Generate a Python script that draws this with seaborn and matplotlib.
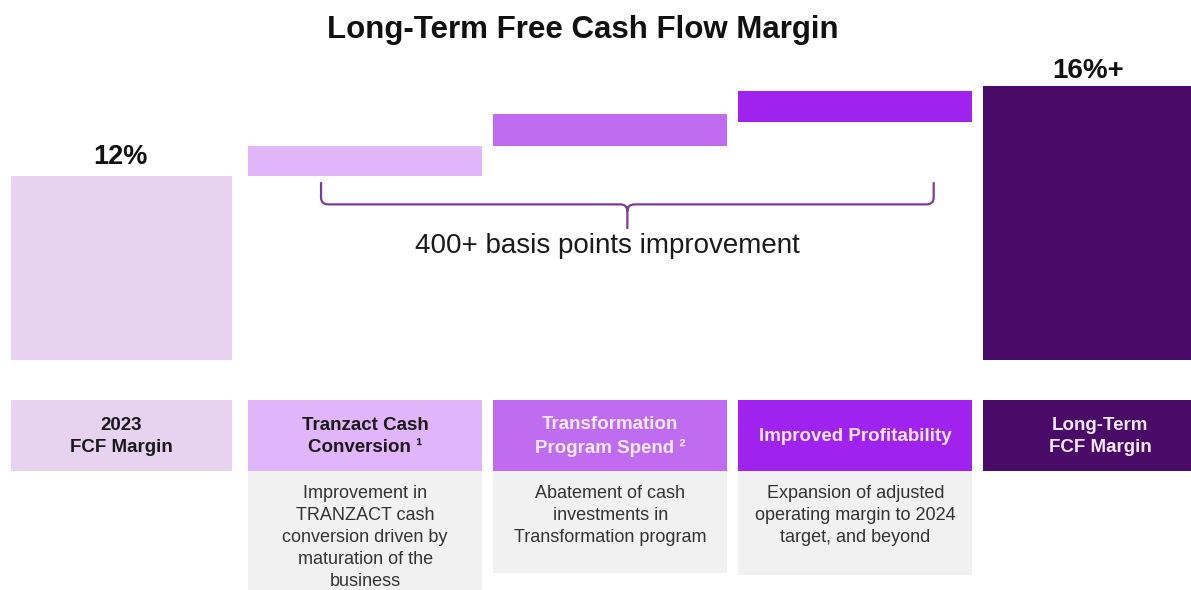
import numpy as np
import matplotlib
matplotlib.use('Agg')
import matplotlib.pyplot as plt
from matplotlib.path import Path
from matplotlib.patches import PathPatch
import seaborn as sns

# Waterfall values (FCF margin, %)
categories = ['2023', 'Tranzact', 'Transformation', 'Profitability', 'Long-Term']
bar_bottoms = [0.0, 12.0, 13.95, 15.5, 0.0]
bar_tops = [12.0, 13.95, 16.05, 17.55, 17.9]
value_labels = {0: '12%', 4: '16%+'}

header_labels = ['2023\nFCF Margin', 'Tranzact Cash\nConversion \u00b9',
                 'Transformation\nProgram Spend \u00b2', 'Improved Profitability',
                 'Long-Term\nFCF Margin']
descriptions = ['', 'Improvement in\nTRANZACT cash\nconversion driven by\nmaturation of the\nbusiness',
                'Abatement of cash\ninvestments in\nTransformation program',
                'Expansion of adjusted\noperating margin to 2024\ntarget, and beyond', '']

bar_colors = ['#E7D3F0', '#E0B5F9', '#BF6CF0', '#A022EE', '#4A0A68']
header_text_colors = ['#1A1A1A', '#1A1A1A', '#F6EAFC', '#F3E6FA', '#F1E8F5']

sns.set_theme(style='white')
plt.rcParams['font.family'] = ['Liberation Sans', 'DejaVu Sans']

fig = plt.figure(figsize=(11.91, 5.90), dpi=100)
ax = fig.add_axes([0, 0, 1, 1])

# coloured full-height bars, then white bars hide the floating part below
sns.barplot(x=categories, y=bar_tops, hue=categories, palette=bar_colors, order=categories,
            hue_order=categories, width=0.955, saturation=1, legend=False, linewidth=0, ax=ax)
sns.barplot(x=categories, y=bar_bottoms, color='white', order=categories, width=0.955,
            saturation=1, linewidth=0, ax=ax)

# first column is a bit narrower than the others
first_left, first_w = -0.445, 0.902
for p in ax.patches:
    if abs(p.get_x() + p.get_width() / 2) < 0.1:
        p.set_x(first_left)
        p.set_width(first_w)

ax.set_xlim(-0.49, 4.37)
ax.set_ylim(-15.0, 23.48)
ax.axis('off')

ax.text(0.0, bar_tops[0] + 0.78, value_labels[0], ha='center', va='baseline',
        fontsize=19.5, fontweight='bold', color='#111111')
ax.text(3.95, bar_tops[4] + 0.5, value_labels[4], ha='center', va='baseline',
        fontsize=20, fontweight='bold', color='#111111')

# header boxes and description boxes under the bars
head_top, head_bot = -2.61, -7.24
desc_bottoms = [None, -15.3, -13.9, -14.0, None]
xs = np.arange(len(categories)).astype(float)
widths = [0.955] * len(categories)
xs[0], widths[0] = first_left + first_w / 2, first_w
ax.bar(xs, head_bot - head_top, bottom=head_top, width=widths, color=bar_colors, linewidth=0)
for i in range(len(categories)):
    ax.text(xs[i], (head_top + head_bot) / 2 - 0.05, header_labels[i], ha='center', va='center',
            fontsize=13.5, fontweight='bold', color=header_text_colors[i], linespacing=1.42)
    if desc_bottoms[i] is not None:
        ax.bar(i, desc_bottoms[i] - head_bot, bottom=head_bot, width=0.955,
               color='#F1F1F1', linewidth=0)
        ax.text(i, head_bot - 0.9, descriptions[i], ha='center', va='top',
                fontsize=13, color='#333333', linespacing=1.38)

# curly bracket
xl, xr, xm = 0.82, 3.32, 2.07
yt, yh, yb = 11.6, 10.15, 8.55
rx, ry = 0.03, 0.45
verts = [(xl, yt), (xl, yh + ry), (xl, yh), (xl + rx, yh), (xm - rx, yh), (xm, yh), (xm, yh - ry),
         (xm, yb), (xm, yh - ry), (xm, yh), (xm + rx, yh), (xr - rx, yh), (xr, yh), (xr, yh + ry),
         (xr, yt)]
codes = [Path.MOVETO, Path.LINETO, Path.CURVE3, Path.CURVE3, Path.LINETO, Path.CURVE3, Path.CURVE3,
         Path.LINETO, Path.MOVETO, Path.CURVE3, Path.CURVE3, Path.LINETO, Path.CURVE3, Path.CURVE3,
         Path.LINETO]
ax.add_patch(PathPatch(Path(verts, codes), fill=False, edgecolor='#7A3C96', linewidth=1.6, zorder=5))
ax.text(1.99, 7.44, '400+ basis points improvement', ha='center', va='center',
        fontsize=20, color='#1A1A1A', zorder=5)

fig.text(583 / 1191, 1 - 30 / 590, 'Long-Term Free Cash Flow Margin', ha='center', va='center',
         fontsize=22.5, fontweight='bold', color='#111111')

plt.savefig('out.png', dpi=100)
plt.close()
